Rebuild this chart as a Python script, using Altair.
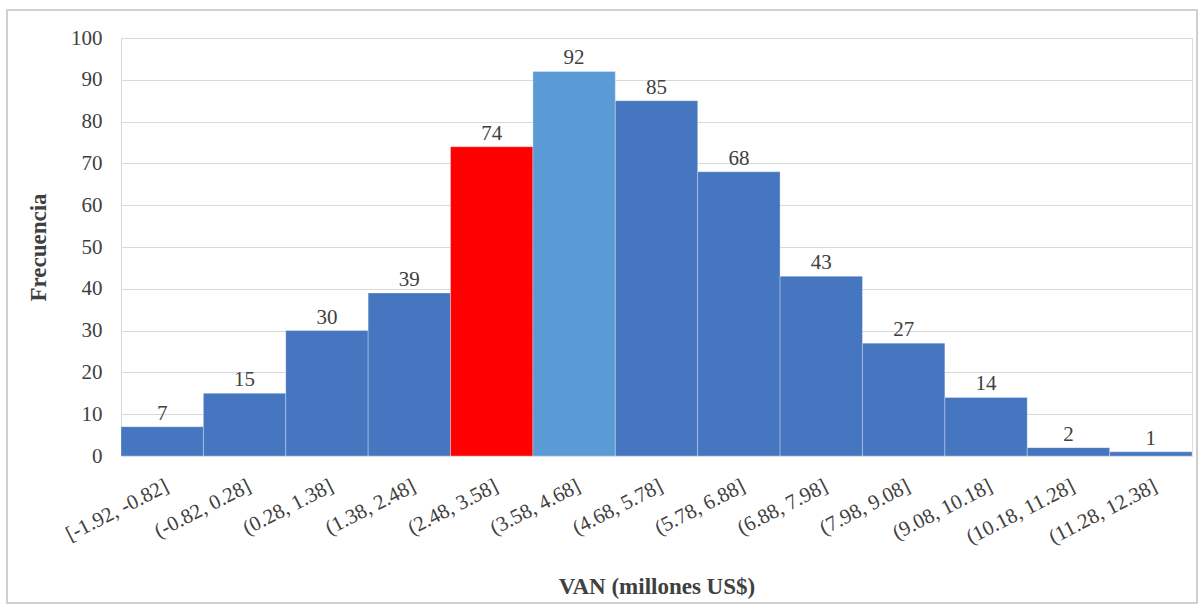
import altair as alt
import pandas as pd

# Histogram bins of the simulated NPV and their frequencies
bins = ["[-1.92, -0.82]", "(-0.82, 0.28]", "(0.28, 1.38]", "(1.38, 2.48]",
        "(2.48, 3.58]", "(3.58, 4.68]", "(4.68, 5.78]", "(5.78, 6.88]",
        "(6.88, 7.98]", "(7.98, 9.08]", "(9.08, 10.18]", "(10.18, 11.28]",
        "(11.28, 12.38]"]
freq = [7, 15, 30, 39, 74, 92, 85, 68, 43, 27, 14, 2, 1]
group = ["base", "base", "base", "base", "actual", "moda", "base", "base",
         "base", "base", "base", "base", "base"]

df = pd.DataFrame({"bin": bins, "freq": freq, "grupo": group})

FONT = "'Liberation Serif', 'Times New Roman', 'DejaVu Serif', serif"
W, H = 1071, 418

x = alt.X("bin:N", sort=bins,
          scale=alt.Scale(paddingInner=0, paddingOuter=0),
          axis=alt.Axis(title="VAN (millones US$)", labelAngle=-27,
                        labelAlign="right", labelBaseline="top",
                        labelFontSize=21, labelColor="#404040", labelFont=FONT,
                        labelPadding=19, ticks=False, domain=False,
                        titleFont=FONT, titleFontSize=23, titleFontWeight="bold",
                        titleColor="#404040", titlePadding=28))
y = alt.Y("freq:Q",
          scale=alt.Scale(domain=[0, 100], nice=False),
          axis=alt.Axis(title="Frecuencia", values=list(range(0, 101, 10)),
                        labelFontSize=21, labelColor="#404040", labelFont=FONT,
                        labelPadding=19, ticks=False, domain=True,
                        domainColor="#d9d9d9", gridColor="#d9d9d9",
                        titleFont=FONT, titleFontSize=23, titleFontWeight="bold",
                        titleColor="#404040", titlePadding=20))

bars = alt.Chart(df).mark_bar(stroke="#ffffff", strokeWidth=0.6, strokeOpacity=0.5).encode(
    x=x, y=y,
    color=alt.Color("grupo:N",
                    scale=alt.Scale(domain=["base", "actual", "moda"],
                                    range=["#4676c0", "#ff0000", "#5a9bd6"]),
                    legend=None),
)

labels = alt.Chart(df).mark_text(baseline="bottom", dy=-3, fontSize=21,
                                 font=FONT, color="#404040").encode(
    x=alt.X("bin:N", sort=bins), y="freq:Q", text="freq:Q")

# light frame around the whole figure
frame = alt.Chart(df).mark_rect(fill=None, stroke="#cfcfcf", strokeWidth=1.2).encode(
    x=alt.value(-114), x2=alt.value(W + 5), y=alt.value(-28), y2=alt.value(H + 147))

chart = alt.layer(bars, labels, frame).properties(
    width=W, height=H,
    padding={"left": 121, "top": 38, "right": 11, "bottom": 154},
    autosize=alt.AutoSizeParams(type="none"),
).configure_view(stroke=None).configure(background="white")

chart.save("out.html", embed_options={"renderer": "svg", "actions": False})
